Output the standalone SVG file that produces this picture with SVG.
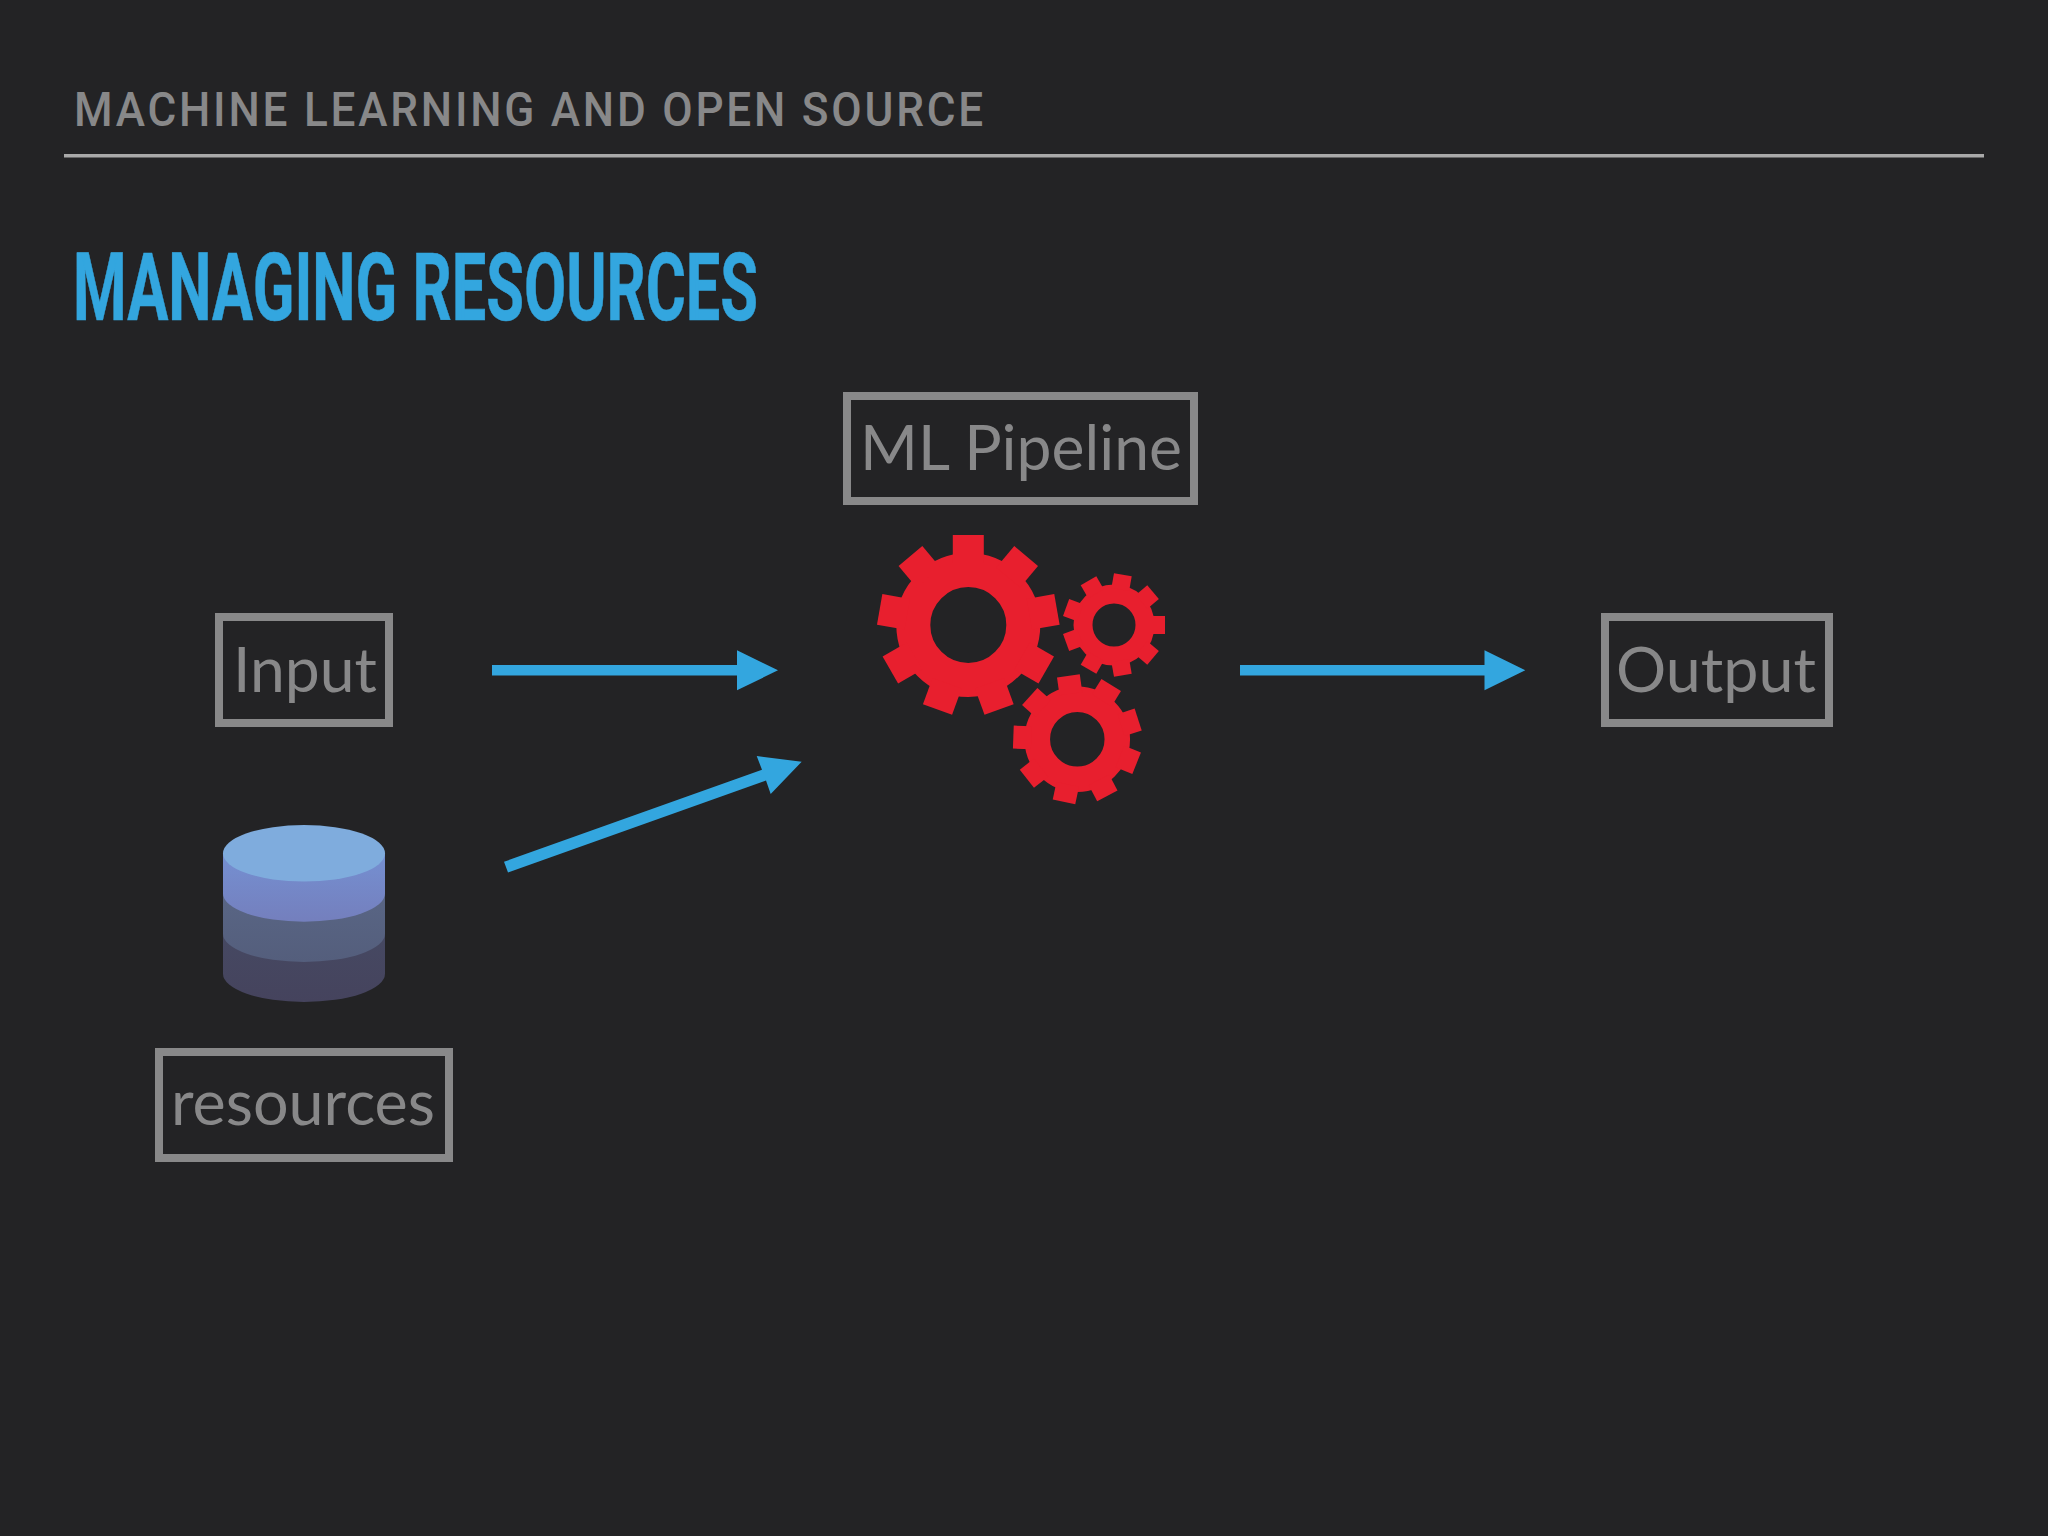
<svg xmlns="http://www.w3.org/2000/svg" xmlns:xlink="http://www.w3.org/1999/xlink" width="2048" height="1536" viewBox="0 0 2048 1536">
<style>
.box{fill:none;stroke:#888889;stroke-width:8}
.lbl{font-family:"Lato","Liberation Sans",sans-serif;font-size:62px;fill:#888889}
.gear{fill:#e81f2e}
.arrow{fill:#33a6df}
</style>
<defs>
<linearGradient id="b2" x1="0" y1="0" x2="0" y2="1"><stop offset="0" stop-color="#7590d2"/><stop offset="1" stop-color="#747fbd"/></linearGradient>
<linearGradient id="b3" x1="0" y1="0" x2="0" y2="1"><stop offset="0" stop-color="#5c6a8a"/><stop offset="1" stop-color="#545e7c"/></linearGradient>
<linearGradient id="b4" x1="0" y1="0" x2="0" y2="1"><stop offset="0" stop-color="#475069"/><stop offset="1" stop-color="#45435d"/></linearGradient>
<polygon id="t1" points="-15.500,-90 15.500,-90 15.500,-62 -15.500,-62"/>
<polygon id="t2" points="-9,-51 9,-51 9,-36 -9,-36"/>
<polygon id="t3" points="-11.500,-64 11.500,-64 11.500,-46 -11.500,-46"/>
</defs>
<rect width="2048" height="1536" fill="#232325"/>
<g id="header">
<text x="74" y="126" font-family="Roboto,'Liberation Sans',sans-serif" font-weight="500" font-size="47.500" letter-spacing="3" fill="#888889" textLength="912" lengthAdjust="spacingAndGlyphs">MACHINE LEARNING AND OPEN SOURCE</text>
<rect x="64" y="154" width="1920" height="3.500" fill="#a9a9a9"/>
</g>
<text id="title" x="73" y="320" font-family="Roboto,'Liberation Sans',sans-serif" font-weight="700" font-size="95" fill="#33a6df" stroke="#33a6df" stroke-width="0.600" textLength="685" lengthAdjust="spacingAndGlyphs">MANAGING RESOURCES</text>
<g id="node-pipeline">
<rect class="box" x="847" y="396" width="347" height="105"/>
<text class="lbl" x="860" y="470" textLength="322" lengthAdjust="spacingAndGlyphs">ML Pipeline</text>
</g>
<g id="node-input">
<rect class="box" x="219" y="617" width="170" height="106"/>
<text class="lbl" x="233" y="692" textLength="144" lengthAdjust="spacingAndGlyphs">Input</text>
</g>
<g id="node-output">
<rect class="box" x="1605" y="617" width="224" height="106"/>
<text class="lbl" x="1616" y="692" textLength="200" lengthAdjust="spacingAndGlyphs">Output</text>
</g>
<g id="node-resources">
<rect class="box" x="159" y="1052" width="290" height="106"/>
<text class="lbl" x="171" y="1125" textLength="264" lengthAdjust="spacingAndGlyphs">resources</text>
</g>
<g id="node-database">
<path fill="url(#b4)" d="M223,853 V973.700 A81,28.300 0 0 0 385,973.700 V853 Z"/>
<path fill="url(#b3)" d="M223,853 V933.700 A81,28.300 0 0 0 385,933.700 V853 Z"/>
<path fill="url(#b2)" d="M223,853 V893.400 A81,28.300 0 0 0 385,893.400 V853 Z"/>
<ellipse cx="304" cy="853.300" rx="81" ry="28.300" fill="#7facdd"/>
</g>
<g id="node-gears" class="gear">
<g id="gear-large" transform="translate(968.300 625)">
<circle r="55" fill="none" stroke="#e81f2e" stroke-width="34"/>
<use xlink:href="#t1"/>
<use xlink:href="#t1" transform="rotate(40)"/>
<use xlink:href="#t1" transform="rotate(80)"/>
<use xlink:href="#t1" transform="rotate(120)"/>
<use xlink:href="#t1" transform="rotate(160)"/>
<use xlink:href="#t1" transform="rotate(200)"/>
<use xlink:href="#t1" transform="rotate(240)"/>
<use xlink:href="#t1" transform="rotate(280)"/>
<use xlink:href="#t1" transform="rotate(320)"/>
</g>
<g id="gear-small" transform="translate(1114 625)">
<circle r="31" fill="none" stroke="#e81f2e" stroke-width="19"/>
<use xlink:href="#t2" transform="rotate(10)"/>
<use xlink:href="#t2" transform="rotate(50)"/>
<use xlink:href="#t2" transform="rotate(90)"/>
<use xlink:href="#t2" transform="rotate(130)"/>
<use xlink:href="#t2" transform="rotate(170)"/>
<use xlink:href="#t2" transform="rotate(210)"/>
<use xlink:href="#t2" transform="rotate(250)"/>
<use xlink:href="#t2" transform="rotate(290)"/>
<use xlink:href="#t2" transform="rotate(330)"/>
</g>
<g id="gear-medium" transform="translate(1077.300 739.300)">
<circle r="40" fill="none" stroke="#e81f2e" stroke-width="25.500"/>
<use xlink:href="#t3" transform="rotate(-8)"/>
<use xlink:href="#t3" transform="rotate(32)"/>
<use xlink:href="#t3" transform="rotate(72)"/>
<use xlink:href="#t3" transform="rotate(112)"/>
<use xlink:href="#t3" transform="rotate(152)"/>
<use xlink:href="#t3" transform="rotate(192)"/>
<use xlink:href="#t3" transform="rotate(232)"/>
<use xlink:href="#t3" transform="rotate(272)"/>
<use xlink:href="#t3" transform="rotate(312)"/>
</g>
</g>
<g id="connectors" class="arrow">
<polygon points="492,665 737,665 737,650.300 778,670.300 737,690.300 737,675.500 492,675.500"/>
<polygon points="1240,665 1484.500,665 1484.500,650.300 1525.300,670.300 1484.500,690.300 1484.500,675.500 1240,675.500"/>
<polygon points="504,861.800 762,769.800 756.700,756 801.700,761.700 770.700,794 766,780.500 508,872.500"/>
</g>
</svg>
